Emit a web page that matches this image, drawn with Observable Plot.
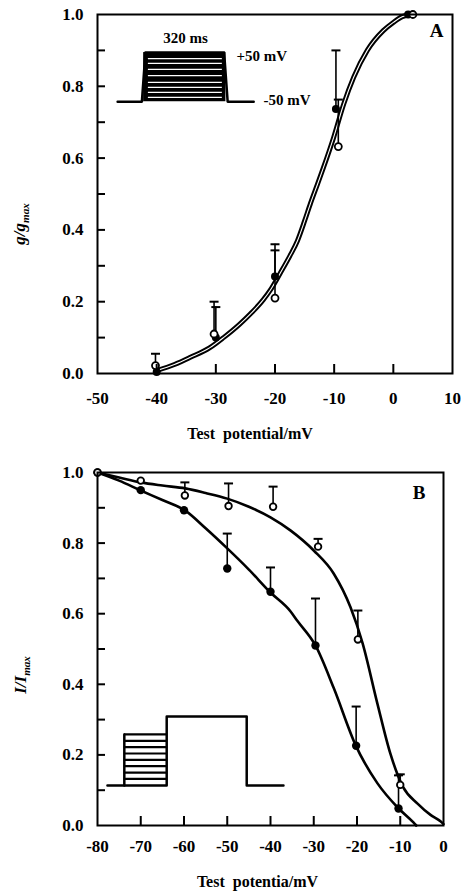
<!DOCTYPE html>
<html><head><meta charset="utf-8">
<script src="https://cdn.jsdelivr.net/npm/d3@7"></script>
<script src="https://cdn.jsdelivr.net/npm/@observablehq/plot@0.6"></script>
<style>
body{margin:0;background:#fff}
#chart{width:461px}
#chart svg{display:block}
</style></head>
<body><div id="chart"></div>
<script>
// ---------- Panel A data ----------
const aTicksX = [-50, -40, -30, -20, -10, 0, 10];
const aInnerTicksX = [-40, -30, -20, -10, 0];
const aTicksY = [0, 0.2, 0.4, 0.6, 0.8, 1.0];
const minorTicksY = [0.1, 0.2, 0.3, 0.4, 0.5, 0.6, 0.7, 0.8, 0.9];

const aFilledV = [-40, -30, -20, -9.7, 2.5];
const aFilledG = [0.004, 0.10, 0.27, 0.737, 1.0];
const aFilledTop = [null, 0.185, 0.36, 0.90, null];
const aOpenV = [-40.2, -30.3, -20, -9.3, 3.3];
const aOpenG = [0.022, 0.11, 0.21, 0.632, 1.0];
const aOpenTop = [0.055, 0.20, 0.343, 0.763, null];

const aCurveV = [-40, -37, -34.3, -31, -28.7, -26, -24.1, -22, -20.8, -19.1, -17.5, -16.2, -15, -14, -12.8, -11.8, -10.1, -8.4, -6.7, -4.4, -1.7, 0, 1.5, 3];
const aCurveG = [0.008, 0.025, 0.045, 0.072, 0.10, 0.137, 0.167, 0.205, 0.232, 0.28, 0.327, 0.37, 0.425, 0.474, 0.528, 0.574, 0.657, 0.75, 0.825, 0.90, 0.955, 0.978, 0.994, 1.0];

// inset A (voltage protocol), in axis units
const insetAPulseV = [-46.6, -42.5, -41.9, -28.6, -28.0, -23.6];
const insetAPulseG = [0.757, 0.757, 0.894, 0.894, 0.757, 0.757];
const insetABlockV = [-42.2, -28.3];
const insetABlockG = [0.757, 0.894];
const insetAStepsG = [0.877, 0.864, 0.847, 0.830, 0.811, 0.797, 0.783, 0.769];
const insetAStepsV = [-41.4, -28.9];

// ---------- Panel B data ----------
const bTicksX = [-80, -70, -60, -50, -40, -30, -20, -10, 0];
const bInnerTicksX = [-70, -60, -50, -40, -30, -20, -10];
const bTicksY = [0, 0.2, 0.4, 0.6, 0.8, 1.0];

const bFilledV = [-80, -70, -60, -50, -40, -29.6, -20.2, -10.4];
const bFilledI = [1.0, 0.95, 0.893, 0.728, 0.662, 0.51, 0.226, 0.048];
const bFilledTop = [null, null, null, 0.827, 0.731, 0.643, 0.337, 0.142];
const bOpenV = [-80, -70, -59.8, -49.7, -39.4, -29, -19.8, -10];
const bOpenI = [1.0, 0.977, 0.935, 0.905, 0.903, 0.79, 0.527, 0.115];
const bOpenTop = [null, null, 0.972, 0.969, 0.96, 0.812, 0.609, 0.145];

const bCurveFilledV = [-80, -75, -70, -65, -59.7, -55, -50, -45, -40, -35.4, -33.8, -29.6, -25.4, -20.3, -15.3, -10.6, -6.9, -6.3];
const bCurveFilledI = [1.0, 0.977, 0.949, 0.922, 0.892, 0.842, 0.785, 0.725, 0.66, 0.607, 0.58, 0.51, 0.39, 0.227, 0.12, 0.051, 0.008, 0.0];
const bCurveOpenV = [-80, -75, -70, -65, -59.7, -55, -50, -45, -40, -35.4, -30, -25.4, -21.5, -18.7, -15.3, -12.3, -9.3, -6, -3, -0.7, 0];
const bCurveOpenI = [1.0, 0.986, 0.972, 0.963, 0.955, 0.942, 0.926, 0.903, 0.873, 0.836, 0.779, 0.714, 0.618, 0.516, 0.346, 0.204, 0.108, 0.062, 0.03, 0.012, 0.004];

// inset B (voltage protocol), in axis units
const insetBPathV = [-77.7, -64.0, -64.0, -45.5, -45.5, -37.0];
const insetBPathI = [0.113, 0.113, 0.309, 0.309, 0.113, 0.113];
const insetBEdgeV = [-73.8, -73.8];
const insetBEdgeI = [0.113, 0.258];
const insetBStepsI = [0.258, 0.240, 0.222, 0.204, 0.186, 0.168, 0.150, 0.132];
const insetBStepsV = [-73.8, -64.0];

// ---------- helpers ----------
const ff = "'Liberation Serif','Times New Roman',Times,serif";
const zip = (xs, ys) => xs.map((x, i) => ({x, y: ys[i]}));
const errRows = (xs, ys, tops) => xs.map((x, i) => ({x, y: ys[i], top: tops[i]})).filter(d => d.top != null);
const capSymbol = {draw(ctx, size) { const r = Math.sqrt(size / Math.PI); ctx.moveTo(-r, 0); ctx.lineTo(r, 0); }};
const fmtY = d3.format(".1f");

function axes(W, H, m, ticksX, innerX, ticksY, padX) {
  const innerH = H - m.t - m.b, innerW = W - m.l - m.r;
  return [
    Plot.ruleX(innerX, {insetTop: innerH - 9, strokeWidth: 2}),
    Plot.ruleY(minorTicksY, {insetRight: innerW - 8, strokeWidth: 2}),
    Plot.frame({strokeWidth: 2}),
    Plot.axisX({ticks: ticksX, tickSize: 0, tickPadding: padX, tickFormat: d => String(d), label: null, fontSize: 17}),
    Plot.axisY({ticks: ticksY, tickSize: 0, tickPadding: 14, tickFormat: fmtY, label: null, fontSize: 17})
  ];
}

function errMarks(rows) {
  return [
    Plot.ruleX(rows, {x: "x", y1: "y", y2: "top", strokeWidth: 1.6}),
    Plot.dot(rows, {x: "x", y: "top", symbol: capSymbol, r: 4.5, stroke: "black", fill: "none", strokeWidth: 2})
  ];
}

const style = {fontFamily: ff, fontWeight: "bold", fontSize: "17px", color: "black", background: "white", overflow: "visible"};

// ---------- Panel A ----------
const mA = {t: 14, r: 9, b: 72, l: 97};
const WA = 461, HA = 445;
const aCurve = zip(aCurveV, aCurveG);
const plotA = Plot.plot({
  width: WA, height: HA,
  marginTop: mA.t, marginRight: mA.r, marginBottom: mA.b, marginLeft: mA.l,
  x: {domain: [-50, 10]}, y: {domain: [0, 1]},
  style,
  marks: [
    Plot.rect([{x1: insetABlockV[0], x2: insetABlockV[1], y1: insetABlockG[0], y2: insetABlockG[1]}], {x1: "x1", x2: "x2", y1: "y1", y2: "y2", fill: "black"}),
    Plot.ruleY(insetAStepsG, {x1: insetAStepsV[0], x2: insetAStepsV[1], stroke: "white", strokeWidth: 1.2}),
    Plot.line(zip(insetAPulseV, insetAPulseG), {x: "x", y: "y", strokeWidth: 2.5}),
    Plot.line(aCurve, {x: "x", y: "y", strokeWidth: 5, curve: "monotone-x"}),
    Plot.line(aCurve, {x: "x", y: "y", stroke: "white", strokeWidth: 1.1, curve: "monotone-x"}),
    ...errMarks(errRows(aFilledV, aFilledG, aFilledTop)),
    ...errMarks(errRows(aOpenV, aOpenG, aOpenTop)),
    Plot.dot(zip(aFilledV, aFilledG), {x: "x", y: "y", r: 4, fill: "black"}),
    Plot.dot(zip(aOpenV, aOpenG), {x: "x", y: "y", r: 3.5, fill: "white", stroke: "black", strokeWidth: 1.8}),
    ...axes(WA, HA, mA, aTicksX, aInnerTicksX, aTicksY, 18),
    Plot.text(["A"], {frameAnchor: "top-right", textAnchor: "end", lineAnchor: "top", dx: -9, dy: 9, fontSize: 19}),
    Plot.text(["320 ms"], {frameAnchor: "top-left", textAnchor: "middle", lineAnchor: "middle", dx: 88, dy: 24, fontSize: 15}),
    Plot.text(["+50 mV"], {frameAnchor: "top-left", textAnchor: "start", lineAnchor: "middle", dx: 139, dy: 42, fontSize: 15}),
    Plot.text(["-50 mV"], {frameAnchor: "top-left", textAnchor: "start", lineAnchor: "middle", dx: 166, dy: 86, fontSize: 15}),
    Plot.text(["Test\u00a0 potential/mV"], {frameAnchor: "bottom", textAnchor: "middle", lineAnchor: "middle", dx: -25, dy: 60, fontSize: 16})
  ]
});

// ---------- Panel B ----------
const mB = {t: 27, r: 18, b: 68, l: 97};
const WB = 461, HB = 448;
const bStepRows = insetBStepsI.map(y => ({y}));
const plotB = Plot.plot({
  width: WB, height: HB,
  marginTop: mB.t, marginRight: mB.r, marginBottom: mB.b, marginLeft: mB.l,
  x: {domain: [-80, 0]}, y: {domain: [0, 1]},
  style,
  marks: [
    Plot.line(zip(insetBPathV, insetBPathI), {x: "x", y: "y", strokeWidth: 2.5}),
    Plot.line(zip(insetBEdgeV, insetBEdgeI), {x: "x", y: "y", strokeWidth: 2.5}),
    Plot.ruleY(insetBStepsI, {x1: insetBStepsV[0], x2: insetBStepsV[1], strokeWidth: 2.2}),
    Plot.line(zip(bCurveFilledV, bCurveFilledI), {x: "x", y: "y", strokeWidth: 2.6, curve: "monotone-x"}),
    Plot.line(zip(bCurveOpenV, bCurveOpenI), {x: "x", y: "y", strokeWidth: 2.6, curve: "monotone-x"}),
    ...errMarks(errRows(bFilledV, bFilledI, bFilledTop)),
    ...errMarks(errRows(bOpenV, bOpenI, bOpenTop)),
    Plot.dot(zip(bFilledV, bFilledI), {x: "x", y: "y", r: 4.2, fill: "black"}),
    Plot.dot(zip(bOpenV, bOpenI), {x: "x", y: "y", r: 3.3, fill: "white", stroke: "black", strokeWidth: 1.8}),
    ...axes(WB, HB, mB, bTicksX, bInnerTicksX, bTicksY, 14),
    Plot.text(["B"], {frameAnchor: "top-right", textAnchor: "end", lineAnchor: "top", dx: -18, dy: 13, fontSize: 19}),
    Plot.text(["Test\u00a0 potentia/mV"], {frameAnchor: "bottom", textAnchor: "middle", lineAnchor: "middle", dx: -13, dy: 56, fontSize: 16})
  ]
});

const root = document.getElementById("chart");
root.appendChild(plotA);
root.appendChild(plotB);

// rotated y-axis titles with subscripts
function yTitle(svg, x, y, main, sub) {
  const t = d3.select(svg).append("text")
    .attr("transform", `translate(${x},${y}) rotate(-90)`)
    .attr("font-family", ff).attr("font-weight", "bold").attr("font-style", "italic")
    .attr("font-size", 17).attr("fill", "black");
  t.append("tspan").text(main);
  t.append("tspan").attr("font-size", 11).attr("dy", 4).text(sub);
}
yTitle(plotA, 25, 224, "g/g", "max");
yTitle(plotB, 26, 230, "I/I", "max");
</script>
</body></html>
